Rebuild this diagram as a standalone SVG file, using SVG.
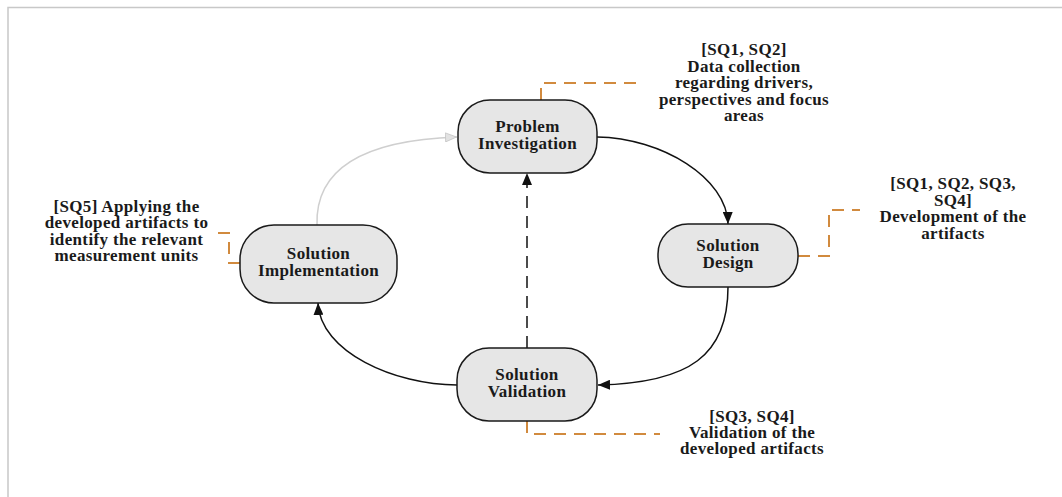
<svg xmlns="http://www.w3.org/2000/svg" width="1062" height="497" viewBox="0 0 1062 497">
  <defs>
    <marker id="arrow" viewBox="0 0 12 10" refX="12" refY="5" markerWidth="12" markerHeight="10" markerUnits="userSpaceOnUse" orient="auto">
      <path d="M0,0 L12,5 L0,10 z" fill="#111"/>
    </marker>
    <marker id="arrow-light" viewBox="0 0 12 10" refX="12" refY="5" markerWidth="12" markerHeight="10" markerUnits="userSpaceOnUse" orient="auto">
      <path d="M0.5,0.5 L11.5,5 L0.5,9.5 z" fill="#e2e2e2" stroke="#c4c4c4" stroke-width="0.8"/>
    </marker>
    <style>
      .frame { fill: none; stroke: #c8c8c8; stroke-width: 1.5; }
      .node rect { fill: #e6e6e6; stroke: #1a1a1a; stroke-width: 1.5; }
      .label { font-family: "Liberation Serif", "Times New Roman", serif; font-weight: bold; font-size: 17px; letter-spacing: 0.35px; fill: #1a1a1a; text-anchor: middle; }
      .edge { fill: none; stroke: #111; stroke-width: 1.5; }
      .edge.dashed { stroke-dasharray: 12 8; }
      .edge.light { stroke: #cfcfcf; stroke-width: 1.5; }
      .callout { fill: none; stroke: #d18a3e; stroke-width: 2; stroke-dasharray: 12 8; }
    </style>
  </defs>

  <!-- page frame -->
  <path class="frame" d="M8,497 V7.5 H1062"/>

  <!-- connectors -->
  <g id="connectors">
    <path class="edge" d="M597,137 C662,138 727,178 728,224" marker-end="url(#arrow)"/>
    <path class="edge" d="M728,287 C728,355 690,383 598,385" marker-end="url(#arrow)"/>
    <path class="edge" d="M457,385 C395,385 320,352 318,303" marker-end="url(#arrow)"/>
    <path class="edge light" d="M317,225 C315,165 370,140 457,137" marker-end="url(#arrow-light)"/>
    <path class="edge dashed" d="M527,348 V173" marker-end="url(#arrow)"/>
  </g>

  <!-- callout leaders -->
  <g id="callouts">
    <path class="callout" d="M541,100 V83 H643"/>
    <path class="callout" d="M798,256 H829 V210 H860"/>
    <path class="callout" d="M527,421 V434 H660"/>
    <path class="callout" d="M240,263 H229 V233 H218"/>
  </g>

  <!-- process nodes -->
  <g id="problem-investigation" class="node">
    <rect x="458" y="100" width="139" height="73" rx="32" ry="32"/>
    <text class="label" x="527.5" y="132">Problem</text>
    <text class="label" x="527.5" y="149">Investigation</text>
  </g>
  <g id="solution-design" class="node">
    <rect x="658" y="224" width="140" height="63" rx="30" ry="30"/>
    <text class="label" x="728" y="251">Solution</text>
    <text class="label" x="728" y="268">Design</text>
  </g>
  <g id="solution-validation" class="node">
    <rect x="457" y="348" width="140" height="73" rx="32" ry="32"/>
    <text class="label" x="527" y="380">Solution</text>
    <text class="label" x="527" y="397">Validation</text>
  </g>
  <g id="solution-implementation" class="node">
    <rect x="240" y="225" width="157" height="78" rx="34" ry="34"/>
    <text class="label" x="318.5" y="259">Solution</text>
    <text class="label" x="318.5" y="276">Implementation</text>
  </g>

  <!-- annotations -->
  <g id="note-problem">
    <text class="label" x="744" y="55">[SQ1, SQ2]</text>
    <text class="label" x="744" y="71.5">Data collection</text>
    <text class="label" x="744" y="88">regarding drivers,</text>
    <text class="label" x="744" y="104.5">perspectives and focus</text>
    <text class="label" x="744" y="121">areas</text>
  </g>
  <g id="note-design">
    <text class="label" x="953" y="189">[SQ1, SQ2, SQ3,</text>
    <text class="label" x="953" y="205.5">SQ4]</text>
    <text class="label" x="953" y="222">Development of the</text>
    <text class="label" x="953" y="238.5">artifacts</text>
  </g>
  <g id="note-validation">
    <text class="label" x="752" y="421.5">[SQ3, SQ4]</text>
    <text class="label" x="752" y="437.5">Validation of the</text>
    <text class="label" x="752" y="453.5">developed artifacts</text>
  </g>
  <g id="note-implementation">
    <text class="label" x="126.5" y="211.5">[SQ5] Applying the</text>
    <text class="label" x="126.5" y="228">developed artifacts to</text>
    <text class="label" x="126.5" y="244.5">identify the relevant</text>
    <text class="label" x="126.5" y="261">measurement units</text>
  </g>
</svg>
